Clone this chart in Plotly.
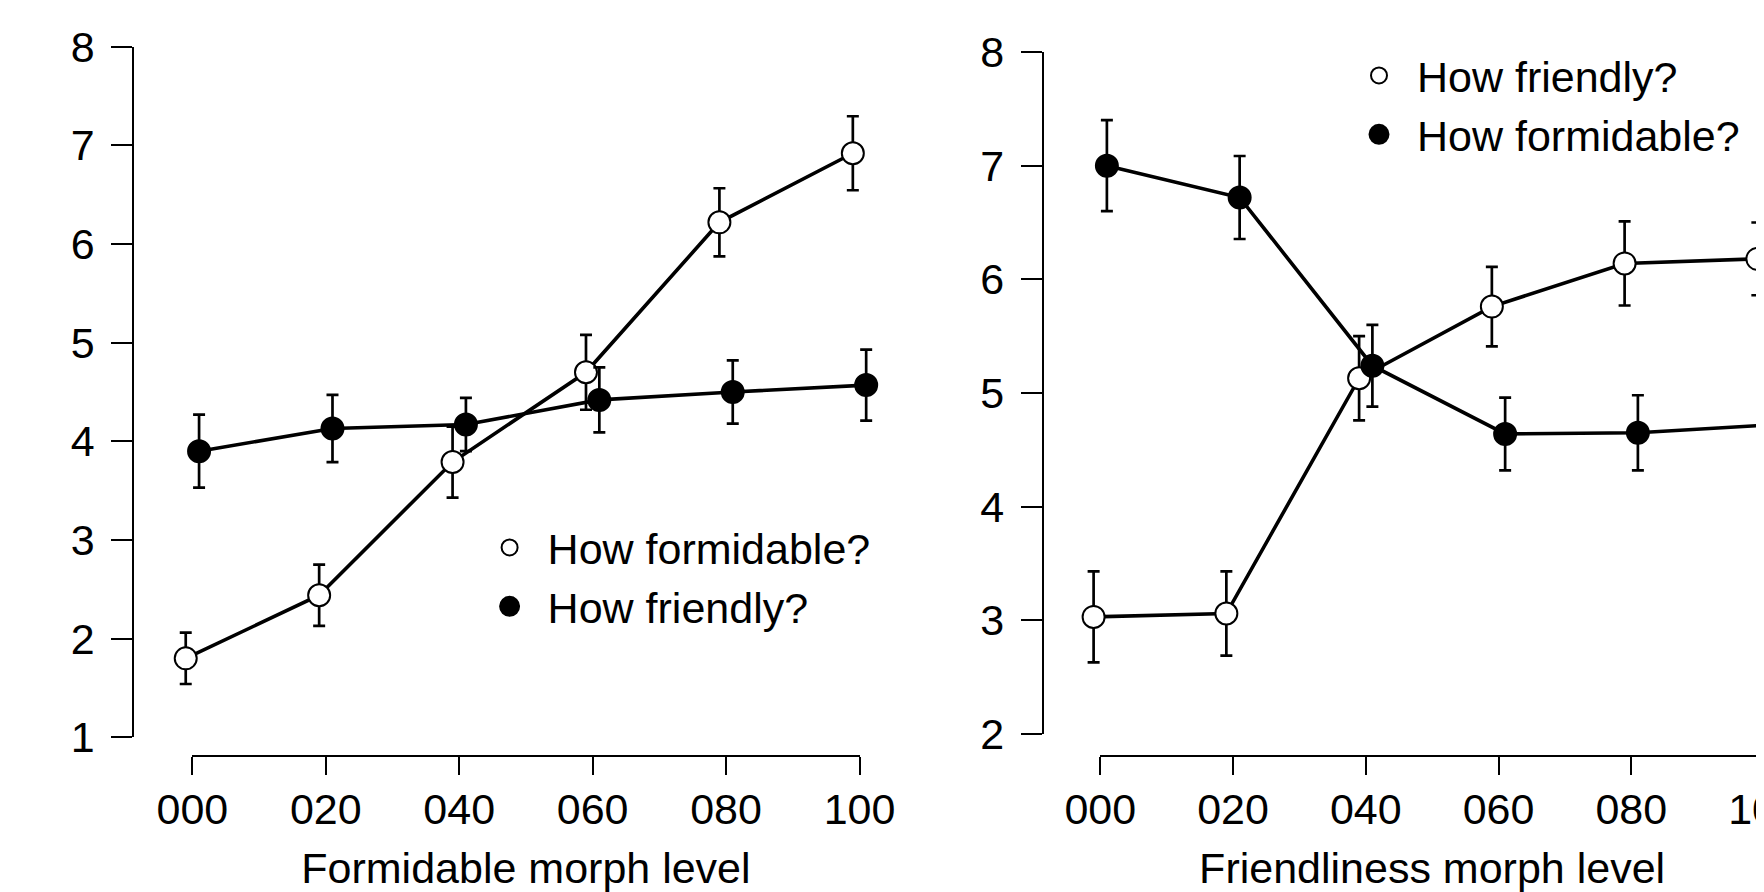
import plotly.graph_objects as go

# ---------------- data ----------------
levels = [0, 20, 40, 60, 80, 100]
level_labels = ["000", "020", "040", "060", "080", "100"]

# Left panel: formidable morph level
left_formidable_mean = [1.80, 2.44, 3.79, 4.70, 6.22, 6.92]
left_formidable_se = [0.26, 0.31, 0.36, 0.38, 0.345, 0.375]
left_friendly_mean = [3.90, 4.13, 4.17, 4.42, 4.50, 4.57]
left_friendly_se = [0.37, 0.34, 0.27, 0.33, 0.32, 0.36]

# Right panel: friendliness morph level
right_friendly_mean = [3.03, 3.06, 5.13, 5.76, 6.14, 6.18]
right_friendly_se = [0.40, 0.37, 0.37, 0.35, 0.37, 0.32]
right_formidable_mean = [7.00, 6.72, 5.24, 4.64, 4.65, 4.72]
right_formidable_se = [0.40, 0.365, 0.36, 0.32, 0.33, 0.33]

# ---------------- layout geometry (screen pixels, minus page margin) ----------------
W, H = 1764, 892
OFF = 8  # default body margin of the page
FONT = "Liberation Sans, Arial, Helvetica, sans-serif"
FS = 43
DODGE = 1.0  # horizontal offset of the two series (x units)

# left panel
L_px0, L_ppu = 192.4 - OFF, 6.671
L_py_lo, L_py_hi, L_ylo, L_yhi = 737.3 - OFF, 46.7 - OFF, 1, 8
L_yaxis_x, xaxis_y = 133.3 - OFF, 756 - OFF
# right panel
R_px0, R_ppu = 1100.25 - OFF, 6.6375
R_py_lo, R_py_hi, R_ylo, R_yhi = 734.0 - OFF, 52.0 - OFF, 2, 8
R_yaxis_x = 1042.7 - OFF

EXT = 8
YEXT = 0.3


def data_axes(px0, ppu, py_lo, py_hi, ylo, yhi):
    a = (px0 - EXT * ppu) / W
    b = (px0 + (100 + EXT) * ppu) / W
    r0, r1 = -EXT, 100 + EXT
    if b > 1.0:
        b = 1.0
        r1 = (W - px0) / ppu
    ppy = (py_lo - py_hi) / (yhi - ylo)
    ya = (H - py_lo - YEXT * ppy) / H
    yb = (H - py_hi + YEXT * ppy) / H
    return (dict(domain=[a, b], range=[r0, r1]),
            dict(domain=[ya, yb], range=[ylo - YEXT, yhi + YEXT]))


Lx, Ly = data_axes(L_px0, L_ppu, L_py_lo, L_py_hi, L_ylo, L_yhi)
Rx, Ry = data_axes(R_px0, R_ppu, R_py_lo, R_py_hi, R_ylo, R_yhi)

fig = go.Figure()


def add_series(xa, ya, means, ses, name, filled, legend, offset):
    xs = [v + offset for v in levels]
    # connecting line (no legend entry)
    fig.add_trace(go.Scatter(
        x=xs, y=means, mode="lines", showlegend=False, hoverinfo="skip",
        xaxis=xa, yaxis=ya, line=dict(color="black", width=3.6)))
    # points with error bars (legend shows marker only)
    if filled:
        marker = dict(size=19, color="black", line=dict(color="black", width=5))
    else:
        marker = dict(size=22, color="white", line=dict(color="black", width=2))
    fig.add_trace(go.Scatter(
        x=xs, y=means, mode="markers", name=name, legend=legend,
        xaxis=xa, yaxis=ya, cliponaxis=False, marker=marker,
        error_y=dict(type="data", array=ses, symmetric=True, color="black",
                     thickness=2.7, width=6),
    ))


add_series("x", "y", left_formidable_mean, left_formidable_se, "How formidable?", False, "legend", -DODGE)
add_series("x", "y", left_friendly_mean, left_friendly_se, "How friendly?", True, "legend", DODGE)
add_series("x2", "y2", right_friendly_mean, right_friendly_se, "How friendly?", False, "legend2", -DODGE)
add_series("x2", "y2", right_formidable_mean, right_formidable_se, "How formidable?", True, "legend2", DODGE)

# empty traces that create the display-axis subplots
fig.add_trace(go.Scatter(x=[], y=[], xaxis="x3", yaxis="y3", showlegend=False))
fig.add_trace(go.Scatter(x=[], y=[], xaxis="x4", yaxis="y4", showlegend=False))

hidden = dict(visible=False, fixedrange=True)
tickfont = dict(family=FONT, size=FS, color="black")


def disp_x(px0, ppu, title):
    a = px0 / W
    b = (px0 + 100 * ppu) / W
    return dict(domain=[a, min(b, 1.0)], range=[0, 100], anchor="free",
                position=(H - xaxis_y) / H,
                showline=True, linecolor="black", linewidth=2, ticks="outside",
                ticklen=18, tickwidth=2, tickcolor="black", tickvals=levels,
                ticktext=level_labels, tickfont=tickfont, showgrid=False, zeroline=False,
                ticklabelstandoff=-3, ticklabeloverflow="allow", automargin=False,
                title=dict(text=title, font=dict(family=FONT, size=FS, color="black"), standoff=20))


def disp_y(py_lo, py_hi, ylo, yhi, xpos):
    return dict(domain=[(H - py_lo) / H, (H - py_hi) / H], range=[ylo, yhi], anchor="free",
                position=xpos / W, showline=True, linecolor="black", linewidth=2,
                ticks="outside", ticklen=21, tickwidth=2, tickcolor="black",
                tickvals=list(range(ylo, yhi + 1)), tickfont=tickfont, showgrid=False,
                zeroline=False, ticklabelstandoff=8, ticklabeloverflow="allow",
                automargin=False)


legend_common = dict(xanchor="left", yanchor="top", bgcolor="rgba(0,0,0,0)",
                     font=dict(family=FONT, size=FS, color="black"),
                     itemwidth=66, tracegroupgap=0, borderwidth=0)

fig.update_layout(
    width=W, height=H, margin=dict(l=0, r=0, t=0, b=0, pad=0, autoexpand=False),
    paper_bgcolor="white", plot_bgcolor="rgba(0,0,0,0)",
    font=dict(family=FONT, size=FS, color="black"),
    xaxis=dict(**Lx, **hidden), yaxis=dict(**Ly, **hidden),
    xaxis2=dict(**Rx, **hidden), yaxis2=dict(**Ry, **hidden),
    xaxis3=disp_x(L_px0, L_ppu, "Formidable morph level"),
    yaxis3=disp_y(L_py_lo, L_py_hi, L_ylo, L_yhi, L_yaxis_x),
    xaxis4=disp_x(R_px0, R_ppu, "Friendliness morph level"),
    yaxis4=disp_y(R_py_lo, R_py_hi, R_ylo, R_yhi, R_yaxis_x),
    legend=dict(x=(509.6 - 38 - OFF) / W, y=1 - (524 - 11 - OFF) / H, **legend_common),
    legend2=dict(x=(1379 - 38 - OFF) / W, y=1 - (50 - 9 - OFF) / H, **legend_common),
    showlegend=True,
)

fig.write_html("out.html")
